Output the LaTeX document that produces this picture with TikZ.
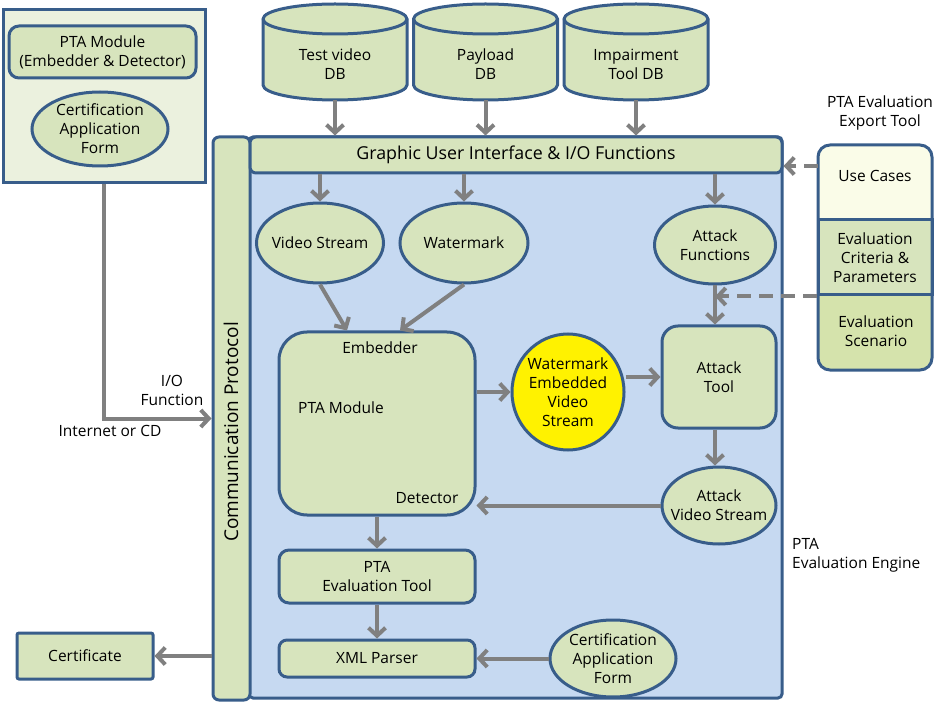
\documentclass[tikz,border=0pt]{standalone}
\usepackage{fontspec}
\setmainfont{Open Sans}
\usetikzlibrary{arrows.meta,shapes.geometric,calc}
\definecolor{bord}{HTML}{385D8A}
\definecolor{gfill}{HTML}{D7E4BD}
\definecolor{pfill}{HTML}{EBF1DE}
\definecolor{bluefill}{HTML}{C6D9F1}
\definecolor{ucfill}{HTML}{FAFCE8}
\definecolor{scfill}{HTML}{D5E3AC}
\definecolor{arrgray}{HTML}{808080}
\newcommand{\dbcyl}[3]{%
  \filldraw[draw=bord, line width=3pt, fill=gfill] (#2-72,19) -- (#2-72,85)
    arc[start angle=180,end angle=360,x radius=72pt,y radius=15pt] -- (#2+72,19)
    arc[start angle=0,end angle=180,x radius=72pt,y radius=15pt] -- cycle;
  \draw[bord, line width=3pt] (#2-72,19) arc[start angle=180,end angle=360,x radius=72pt,y radius=15pt];
  \node[lbl] (#1) at (#2,64) {#3};
  \coordinate (#1b) at (#2,100);
}
\begin{document}
\begin{tikzpicture}[x=1pt,y=-1pt,
  every node/.style={font=\fontsize{15.5}{19}\selectfont},
  box/.style={draw=bord, line width=3pt, fill=gfill, align=center, inner sep=0pt},
  rbox/.style={box, rounded corners=10pt},
  ell/.style={box, ellipse},
  lbl/.style={align=center, inner sep=0pt},
  arr/.style={draw=arrgray, line width=4pt, -{Straight Barb[length=8pt,width=17pt]}},
  darr/.style={arr, dash pattern=on 14pt off 8pt}]
\useasboundingbox (0,0) rectangle (948,703);

% top-left panel
\node[box, fill=pfill, minimum width=202pt, minimum height=173pt] (panel) at (104,96.5) {};
\node[rbox, minimum width=187pt, minimum height=52pt] (ptam) at (102.5,52) {PTA Module\\(Embedder \& Detector)};
\node[ell, minimum width=136pt, minimum height=74pt] (caf1) at (100,129) {};
\node[lbl] (caf1t) at (caf1) {Certification\\Application\\Form};

% databases
\dbcyl{db1}{335}{Test video\\DB}
\dbcyl{db2}{485.5}{Payload\\DB}
\dbcyl{db3}{636}{Impairment\\Tool DB}

% engine
\node[box, fill=bluefill, rounded corners=4pt, minimum width=533pt, minimum height=561pt] (engine) at (515.5,417.5) {};
\node[box, rounded corners=6pt, minimum width=37pt, minimum height=563pt] (comm) at (231.5,418.5) {};
\node[lbl, rotate=90, font=\fontsize{19}{22}\selectfont] (commtxt) at (231,432) {Communication Protocol};
\node[box, rounded corners=6pt, minimum width=532pt, minimum height=36pt, font=\fontsize{17.8}{20}\selectfont] (gui) at (516,155) {Graphic User Interface \& I/O Functions};

\node[ell, minimum width=127pt, minimum height=80pt] (vs) at (320,243) {};
\node[lbl] (vst) at (vs) {Video Stream};
\node[ell, minimum width=128pt, minimum height=80pt] (wm) at (464,243) {};
\node[lbl] (wmt) at (wm) {Watermark};
\node[ell, minimum width=121pt, minimum height=78pt] (af) at (715,245) {};
\node[lbl] (aft) at (af) {Attack\\Functions};

\node[box, rounded corners=28pt, minimum width=196pt, minimum height=183pt] (pta) at (377,423.5) {};
\node[lbl] (emb) at (380,348) {Embedder};
\node[lbl] (ptamod) at (341,408) {PTA Module};
\node[lbl] (det) at (427,498) {Detector};

\node[ell, fill=yellow, minimum width=112pt, minimum height=116pt] (wevs) at (568,392) {};
\node[lbl] (wevst) at (wevs) {Watermark\\Embedded\\Video\\Stream};
\node[box, rounded corners=16pt, minimum width=114pt, minimum height=102pt] (at) at (719,377) {Attack\\Tool};
\node[ell, minimum width=114pt, minimum height=77pt] (avs) at (719,505.5) {};
\node[lbl] (avst) at (avs) {Attack\\Video Stream};

\node[rbox, minimum width=196pt, minimum height=53pt] (pet) at (377,576.5) {PTA\\Evaluation Tool};
\node[box, rounded corners=8pt, minimum width=196pt, minimum height=37pt] (xml) at (377,658.5) {XML Parser};
\node[ell, minimum width=126pt, minimum height=77pt] (caf2) at (613,658.5) {};
\node[lbl] (caf2t) at (caf2) {Certification\\Application\\Form};

\node[box, rounded corners=2pt, minimum width=136pt, minimum height=46pt] (cert) at (85,656) {Certificate};

% labels
\node[lbl] (io) at (172,390) {I/O\\Function};
\node[lbl] (inet) at (110,431) {Internet or CD};
\node[lbl, align=left, anchor=west] (engl) at (792,555) {PTA\\Evaluation Engine};
\node[lbl] (expl) at (880,113) {PTA Evaluation\\Export Tool};

% right stack
\fill[ucfill, rounded corners=12pt] (818,145) rectangle (932,240);
\fill[scfill, rounded corners=12pt] (818,275) rectangle (932,370);
\node[box, minimum width=114pt, minimum height=75pt] (crit) at (875,257.5) {Evaluation\\Criteria \&\\Parameters};
\draw[bord, line width=3pt, rounded corners=12pt] (818,145) rectangle (932,370);
\node[lbl] (uc) at (875,176) {Use Cases};
\node[lbl] (sc) at (876,331) {Evaluation\\Scenario};
\coordinate (ucL) at (818,166);

% connectors
\draw[arr] (db1b) -- (db1b |- gui.north);
\draw[arr] (db2b) -- (db2b |- gui.north);
\draw[arr] (db3b) -- (db3b |- gui.north);
\draw[arr] (vs.north |- gui.south) -- (vs.north);
\draw[arr] (wm.north |- gui.south) -- (wm.north);
\draw[arr] (af.north |- gui.south) -- (af.north);
\draw[arr] (vs.south) -- ([xshift=-30pt]pta.north);
\draw[arr] (wm.south) -- ([xshift=23pt]pta.north);
\draw[arr] (wevs.west -| pta.east) -- (wevs.west);
\draw[arr] (at.west -| wevs.east) -- (at.west);
\draw[arr] (af.south) -- (af.south |- at.north);
\draw[arr] (at.south -| af.south) -- (avs.north -| af.south);
\draw[arr] (avs.west) -- (avs.west -| pta.east);
\draw[arr] (pta.south) -- (pet.north);
\draw[arr] (pet.south) -- (xml.north);
\draw[arr] (caf2.west) -- (caf2.west -| xml.east);
\draw[arr] (cert.east -| comm.west) -- (cert.east);
\draw[arr] (panel.south) |- (comm.west);
\draw[darr] (ucL) -- (ucL -| gui.east);
\draw[darr] (crit.south west) -- (crit.south west -| af.south);
\end{tikzpicture}
\end{document}
